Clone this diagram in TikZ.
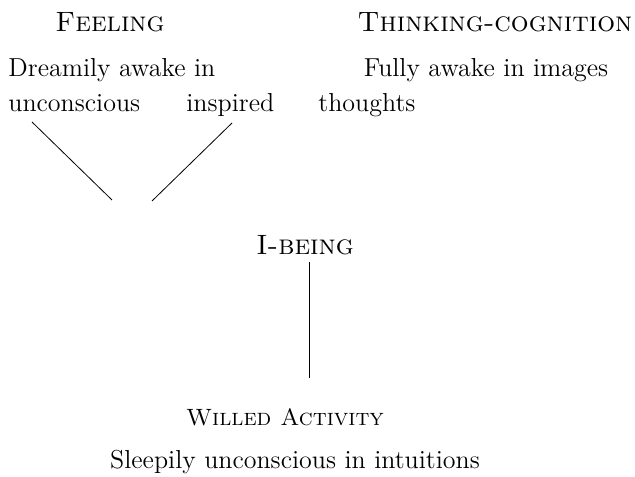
\documentclass[tikz,border=0pt]{standalone}
\usepackage{tikz}

\tikzset{
  word/.style={inner sep=0pt, font=\fontsize{13}{15}\selectfont},
  heading/.style={word, font=\fontsize{14}{16}\selectfont\scshape},
  subheading/.style={word, font=\fontsize{11.8}{14}\selectfont\scshape}
}

\begin{document}
\begin{tikzpicture}[x=0.5pt,y=0.5pt]
      \useasboundingbox (0,0) rectangle (635,476);

      \node[heading, anchor=base] (feeling) at (110, 444) {Feeling};
      \node[heading, anchor=base] (thinking) at (495, 444) {Thinking-cognition};

      \node[word, anchor=base west] (dreamily) at (8, 399) {Dreamily awake in};
      \node[word, anchor=base west] (uncon) at (8, 364) {unconscious};
      \node[word, anchor=base west] (inspired) at (186, 364) {inspired};
      \node[word, anchor=base west] (thoughts) at (318, 364) {thoughts};
      \node[word, anchor=base] (fully) at (486, 399) {Fully awake in images};

      \node[heading, anchor=base] (ibeing) at (305, 221) {I-being};
      \node[subheading, anchor=base] (willed) at (285, 51) {Willed Activity};
      \node[word, anchor=base] (sleepily) at (295, 8) {Sleepily unconscious in intuitions};

      \coordinate (lt) at (32, 354);
      \coordinate (lb) at (112, 276);
      \coordinate (rt) at (232, 353);
      \coordinate (rb) at (152, 275);
      \coordinate (wt) at (309, 98);

      \draw (lt) -- (lb);
      \draw (rt) -- (rb);
      \draw (ibeing.south -| wt) ++(0,-6) -- (wt);
    \end{tikzpicture}
\end{document}
